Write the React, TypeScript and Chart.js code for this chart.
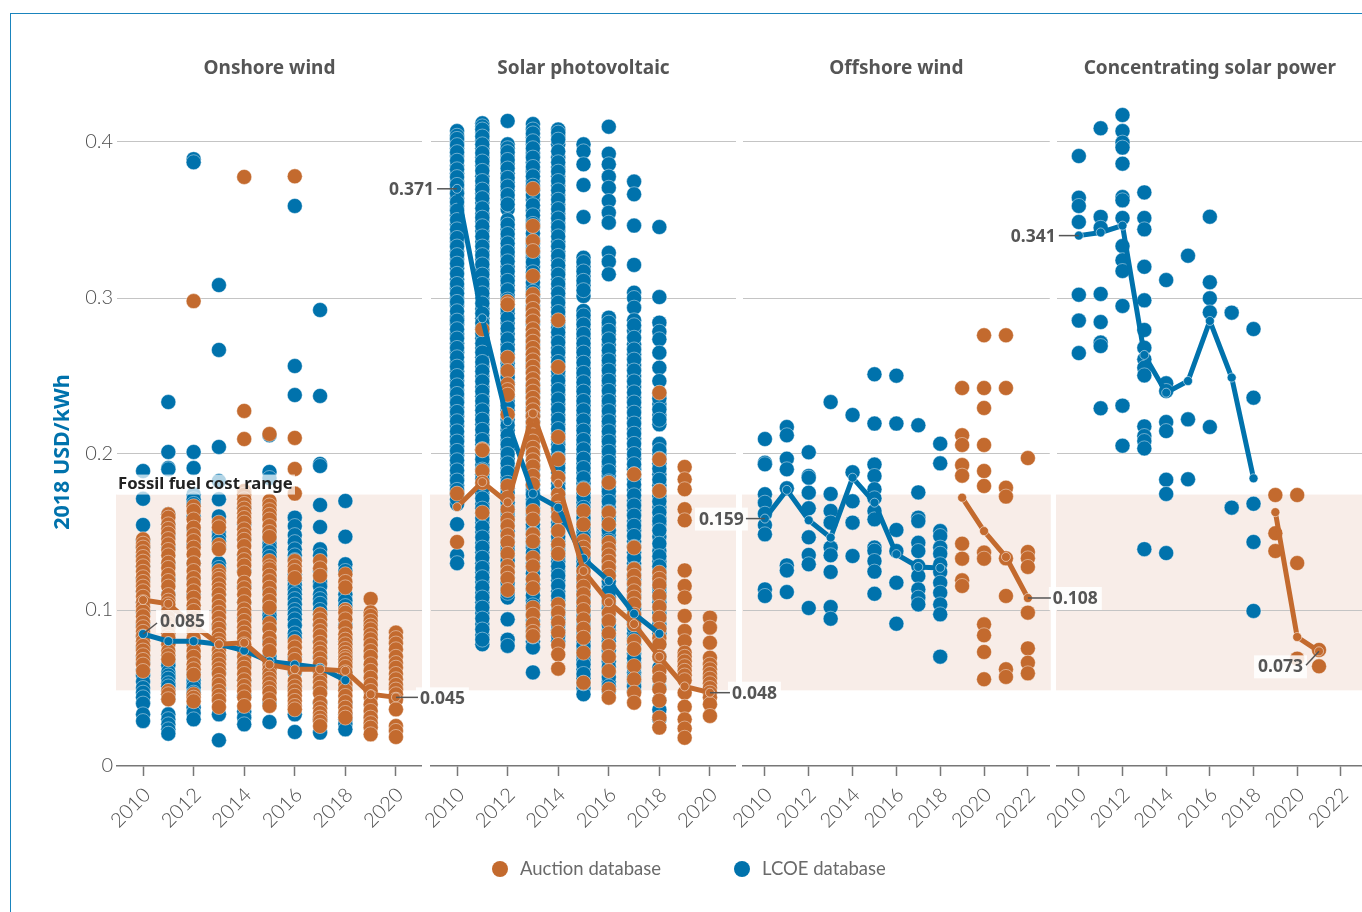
import React, { useEffect, useRef } from "react";
import { Chart, registerables } from "chart.js";

Chart.register(...registerables);

const BLUE = "#0072ac";
const ORANGE = "#c36a2e";
const GREY = "#6a6a6a";
const TICK_GREY = "#505050";
const LABEL_FONT = "Lato";
const TITLE_FONT = "Noto Sans";

const yTicks = [0, 0.1, 0.2, 0.3, 0.4];
const fossilLow = 0.0485;
const fossilHigh = 0.174;

const titles = ["Onshore wind", "Solar photovoltaic", "Offshore wind", "Concentrating solar power"];
const shortYearTicks = [2010, 2012, 2014, 2016, 2018, 2020];
const longYearTicks = [2010, 2012, 2014, 2016, 2018, 2020, 2022];

// LCOE and auction points per year, first column is 2010
const onshoreLcoe = [
  [.1891, .1713, .1545, .1445, .14, .135, .128, .12, .112, .105, .098, .09, .083, .076, .07, .066, .062, .058, .054, .05, .047, .044, .04, .0331, .0288],
  [.2333, .2013, .191, .1902, .1613, .155, .148, .14, .13, .12, .11, .1, .09, .08, .0687, .066, .0645, .0603, .058, .056, .053, .051, .048, .046, .043, .0331, .03, .0267, .0235, .0207],
  [.389, .387, .2013, .191, .1742, .171, .168, .16, .152, .142, .13, .12, .11, .1, .09, .08, .07, .06, .057, .055, .0525, .0502, .047, .0374, .034, .0299],
  [.3083, .2667, .2045, .1827, .171, .16, .15, .147, .144, .14, .13, .127, .12, .11, .1, .09, .08, .07, .06, .05, .0331, .0165],
  [.165, .155, .145, .135, .125, .115, .105, .095, .085, .075, .065, .055, .045, .035, .031, .0267],
  [.212, .1885, .1846, .16, .15, .146, .1425, .14, .137, .134, .127, .12, .113, .106, .1, .0965, .094, .088, .08, .07, .0675, .06, .05, .04, .0282],
  [.359, .2564, .2378, .1592, .1538, .148, .1435, .1389, .135, .132, .1229, .119, .116, .113, .1101, .107, .1035, .1, .0972, .094, .09, .085, .082, .07, .06, .05, .0331, .0218],
  [.2923, .2372, .1936, .1923, .1673, .1532, .1389, .135, .125, .118, .115, .11, .107, .104, .1, .097, .09, .08, .07, .06, .05, .04, .03, .0214],
  [.1699, .147, .1293, .125, .1101, .106, .1025, .1, .09, .08, .07, .06, .05, .04, .0331, .03, .027, .0235],
];
const onshoreAuction = [
  [.1453, .1425, .14, .137, .134, .131, .128, .1245, .121, .118, .115, .112, .1085, .105, .102, .099, .096, .092, .089, .086, .083, .08, .077, .074, .071, .068, .065, .0609],
  [.1613, .1592, .1549, .152, .149, .1455, .1421, .1385, .135, .1303, .127, .1225, .1186, .115, .1096, .106, .1036, .099, .095, .0915, .088, .085, .0822, .078, .0737, .071, .0684, .0481, .046, .0428],
  [.298, .1665, .1635, .158, .1528, .148, .1442, .14, .1357, .13, .125, .1205, .1165, .112, .1079, .103, .0994, .095, .0905, .0865, .082, .078, .0737, .07, .0652, .062, .0585, .046, .0438, .0415],
  [.156, .153, .1417, .139, .125, .122, .1199, .1165, .1132, .11, .1058, .102, .0983, .095, .0908, .088, .084, .081, .078, .074, .071, .0684, .065, .062, .059, .0545, .052, .0481, .045, .042, .0378],
  [.3776, .2276, .2096, .1763, .174, .171, .168, .165, .162, .159, .156, .1517, .148, .145, .141, .1357, .132, .1285, .124, .1175, .114, .11, .105, .1004, .097, .093, .089, .0855, .082, .078, .0737, .07, .066, .063, .059, .055, .0513, .048, .044, .0385],
  [.2128, .1699, .167, .164, .161, .158, .1538, .15, .1468, .1314, .128, .1261, .122, .1185, .1143, .11, .1058, .1015, .0915, .0876, .0822, .078, .0737, .0647, .062, .059, .056, .053, .05, .047, .0428, .0385],
  [.378, .2103, .1904, .1746, .1314, .128, .125, .1205, .0795, .076, .0716, .068, .0609, .0545, .051, .048, .045, .0417, .0385, .0363],
  [.1314, .1267, .122, .0972, .094, .09, .0865, .0833, .079, .0755, .0726, .069, .0655, .0609, .057, .0535, .0502, .0465, .0406, .037, .034, .031, .0285, .0256],
  [.1229, .118, .1145, .1, .0983, .094, .089, .0844, .081, .078, .075, .0725, .07, .0684, .066, .0635, .06, .0565, .052, .0485, .0449, .041, .0374, .034, .031],
  [.1071, .0985, .0962, .093, .09, .0876, .084, .0812, .0775, .0737, .07, .0652, .061, .0566, .052, .0481, .044, .0395, .0353, .031, .0275, .0246, .0203],
  [.0855, .082, .0785, .0748, .07, .066, .063, .059, .0556, .052, .049, .046, .0425, .0363, .0256, .0225, .0186],
];
const solarLcoe = [
  [.407, .404, .4, .396, .391, .385, .38, .375, .37, .364, .359, .353, .347, .341, .336, .33, .325, .319, .312, .306, .3, .295, .288, .283, .277, .271, .265, .259, .253, .247, .241, .236, .23, .224, .218, .211, .205, .199, .193, .186, .18, .174, .168, .155, .135, .13],
  [.412, .41, .406, .401, .396, .39, .385, .378, .372, .367, .361, .354, .349, .343, .336, .33, .325, .318, .312, .306, .3, .293, .287, .281, .274, .268, .262, .256, .25, .243, .237, .231, .225, .219, .212, .206, .2, .193, .187, .181, .175, .168, .162, .156, .15, .143, .137, .13, .124, .118, .111, .105, .098, .091, .084, .078],
  [.4135, .3985, .396, .391, .386, .38, .374, .369, .363, .357, .35, .344, .338, .332, .327, .32, .314, .308, .302, .296, .29, .284, .277, .27, .264, .258, .252, .246, .24, .234, .228, .222, .215, .209, .203, .197, .191, .185, .178, .172, .166, .16, .154, .147, .141, .135, .128, .121, .114, .108, .094, .081, .077],
  [.4115, .408, .403, .3985, .393, .387, .381, .375, .369, .363, .356, .35, .345, .338, .332, .326, .32, .313, .307, .301, .295, .289, .283, .276, .27, .264, .258, .252, .245, .239, .233, .227, .221, .214, .208, .202, .196, .19, .183, .177, .171, .165, .158, .152, .146, .14, .133, .127, .12, .113, .106, .1, .093, .086, .08, .076, .06],
  [.408, .404, .3985, .39, .384, .378, .372, .366, .36, .354, .348, .343, .336, .33, .324, .318, .312, .306, .3, .294, .288, .281, .275, .268, .262, .256, .25, .244, .238, .232, .225, .219, .213, .206, .2, .194, .188, .181, .175, .169, .163, .156, .15, .144, .138, .131, .125, .119, .112, .106, .1, .094, .087, .08],
  [.3985, .394, .3857, .3724, .3519, .3258, .32, .3141, .308, .3013, .2917, .286, .28, .274, .268, .262, .255, .249, .243, .237, .231, .225, .218, .212, .206, .2, .194, .188, .181, .175, .169, .162, .156, .15, .143, .137, .131, .125, .118, .112, .106, .099, .093, .086, .08, .074, .068, .062, .056, .05, .046],
  [.4098, .3925, .3857, .3778, .3707, .3622, .3547, .3483, .329, .3233, .3152, .2874, .281, .2767, .27, .263, .257, .25, .244, .237, .231, .224, .218, .211, .205, .198, .192, .186, .179, .173, .166, .16, .154, .148, .141, .135, .128, .122, .115, .108, .101, .094, .087, .08, .074, .067, .06, .054, .048],
  [.3746, .3665, .3464, .3212, .3034, .3, .2938, .2857, .279, .2703, .264, .257, .25, .243, .236, .23, .223, .216, .21, .203, .197, .19, .184, .177, .17, .164, .157, .151, .144, .137, .13, .123, .116, .11, .104, .098, .092, .085, .078, .072, .066, .06, .054, .048],
  [.3455, .3006, .2842, .2784, .2735, .2649, .2553, .2468, .239, .232, .225, .219, .2065, .2, .194, .187, .18, .173, .166, .159, .1549, .147, .1378, .131, .125, .118, .111, .105, .098, .091, .085, .078, .07, .063, .056, .05, .042, .036, .03],
];
// Further LCOE projects read between the ones above, where the columns are too dense to tell apart
const solarLcoeDense = [
  [.402, .398, .3935, .388, .3825, .3775, .3725, .367, .3615, .356, .35, .344, .3385, .333, .3275, .322, .3155, .309, .303, .2975, .2915, .2855, .28, .274, .268, .262, .256, .25, .244, .2385, .233, .227, .221, .2145, .208, .202, .196, .1895, .183, .177, .171],
  [.408, .4035, .3985, .393, .3875, .3815, .375, .3695, .364, .3575, .3515, .346, .3395, .333, .3275, .3215, .315, .309, .303, .2965, .29, .284, .2775, .271, .265, .259, .253, .2465, .24, .234, .228, .222, .2155, .209, .203, .1965, .19, .184, .178, .1715, .165, .159, .153, .1465, .14, .1335, .127, .121, .1145, .108, .1015, .0945, .0875, .081],
  [.3935, .3885, .383, .377, .3715, .366, .36, .347, .341, .335, .3295, .3235, .317, .311, .305, .299, .293, .287, .2805, .2735, .267, .261, .255, .249, .243, .237, .231, .225, .2185, .212, .206, .2, .194, .188, .1815, .175, .169, .163, .157, .1505, .144, .138, .1315, .1245, .1175, .111],
  [.4055, .4005, .396, .39, .384, .378, .372, .366, .3595, .353, .3475, .3415, .335, .329, .323, .3165, .31, .304, .298, .292, .286, .2795, .273, .267, .261, .255, .2485, .242, .236, .23, .224, .2175, .211, .205, .199, .193, .1865, .18, .174, .168, .1615, .155, .149, .143, .1365, .13, .1235, .1165, .1095, .103, .0965, .0895, .083],
  [.406, .4015, .394, .387, .381, .375, .369, .363, .357, .351, .3455, .3395, .333, .327, .321, .315, .309, .303, .297, .291, .2845, .278, .2715, .265, .259, .253, .247, .241, .235, .2285, .222, .216, .2095, .203, .197, .191, .1845, .178, .172, .166, .1595, .153, .147, .141, .1345, .128, .122, .1155, .109, .103, .097, .0905, .0835],
  [.323, .317, .311, .305, .2888, .283, .277, .271, .265, .2585, .252, .246, .24, .234, .228, .2215, .215, .209, .203, .197, .191, .1845, .178, .172, .1655, .159, .153, .1465, .14, .134, .128, .1215, .115, .109, .1025, .096, .0895, .083, .077, .071, .065, .059, .053],
  [.2842, .279, .2735, .2665, .26, .2535, .247, .2405, .234, .2275, .221, .2145, .208, .2015, .195, .189, .1825, .176, .1695, .163, .157, .151, .1445, .138, .1315, .125, .1185, .1115, .1045, .0975, .0905, .0835, .077, .0705, .0635, .057, .051],
  [.2825, .2745, .267, .2605, .2535, .2465, .2395, .233, .2265, .2195, .213, .2065, .2, .1935, .187, .1805, .1735, .167, .1605, .154, .1475, .1405, .1335, .1265, .1195, .113, .107, .101, .095, .0885, .0815, .075, .069, .063, .057, .051],
  [.2355, .2285, .222, .2025, .197, .1905, .1835, .1765, .1695, .1625, .157, .151, .1425, .1345, .128, .1215, .1145, .108, .1015, .0945, .088],
];
const solarAuction = [
  [.1746, .1436],
  [.28, .203, .2024, .1891, .1816, .1624],
  [.2976, .2959, .2618, .2532, .2447, .241, .238, .2254, .1795, .172, .1646, .158, .1538, .148, .1432, .136, .1282, .124, .12, .1128],
  [.37, .3462, .3365, .3301, .3141, .3024, .298, .293, .289, .285, .28, .276, .272, .268, .264, .26, .256, .252, .248, .244, .24, .236, .232, .228, .224, .22, .216, .212, .208, .204, .2, .196, .192, .186, .1806, .1635, .158, .1485, .144, .1335, .128, .1197, .114, .1015, .097, .0908, .086, .0833],
  [.2857, .2558, .2109, .1966, .1848, .1742, .17, .165, .16, .1506, .1421, .136, .1036, .0983, .092, .0855, .0776, .0715, .0624],
  [.1774, .1635, .1549, .1442, .14, .136, .125, .12, .115, .1101, .105, .1, .094, .088, .0822, .0726, .0534],
  [.1816, .1624, .155, .1432, .139, .135, .131, .127, .122, .1058, .098, .0929, .085, .0769, .07, .0609, .0492, .0438],
  [.187, .14, .1261, .122, .117, .112, .108, .1036, .097, .0908, .0801, .075, .0641, .0556, .047, .0406],
  [.2393, .1966, .1763, .1239, .12, .116, .109, .102, .0951, .088, .082, .078, .07, .0609, .056, .0492, .042, .031, .0246],
  [.1917, .1838, .1774, .1646, .1575, .1254, .1154, .108, .0962, .0865, .08, .0726, .07, .067, .064, .061, .058, .055, .047, .038, .0299, .024, .0181],
  [.0951, .0887, .079, .0694, .065, .062, .059, .056, .053, .05, .047, .044, .0396, .0321],
];
const offshoreLcoe = [
  [.2096, .1944, .1934, .1742, .1688, .1617, .1545, .1485, .1132, .109],
  [.2173, .212, .197, .1902, .178, .1286, .1254, .1115],
  [.2011, .1859, .1848, .1752, .1652, .1466, .1353, .1293, .1013],
  [.2333, .1744, .1635, .156, .14, .1351, .1244, .1019, .0944],
  [.225, .1883, .1697, .156, .1346],
  [.2511, .2195, .1932, .1859, .1774, .1716, .1635, .1581, .14, .138, .1314, .1246, .1104],
  [.2502, .2195, .1513, .1378, .1175, .0912],
  [.2184, .1754, .1592, .157, .1431, .1378, .1282, .1218, .1132, .1079, .1036],
  [.2066, .194, .1506, .1474, .14, .1361, .1293, .1244, .1175, .1111, .1036, .0972, .0701],
];
const offshoreAuction = [
  [], [], [], [], [], [], [], [], [],
  [.2423, .212, .2058, .1929, .1861, .1425, .1329, .119, .1154],
  [.2761, .2423, .2295, .2058, .1891, .1795, .1368, .1329, .0908, .0838, .0731, .0556],
  [.2761, .2423, .1784, .1727, .1331, .109, .062, .0571],
  [.1974, .1372, .1331, .1276, .0983, .0754, .0662, .0594],
];
const cspLcoe = [
  [.391, .3643, .359, .3487, .3021, .2855, .2647],
  [.4088, .352, .345, .3026, .2846, .2714, .2692, .2293],
  [.4173, .407, .3996, .3964, .3861, .3647, .3626, .3513, .3333, .3242, .3173, .2949, .231, .2053],
  [.3677, .3513, .344, .32, .2985, .2795, .2681, .2607, .2553, .2504, .2177, .2115, .2083, .2036, .139],
  [.3115, .2453, .2404, .2205, .2147, .1835, .1744, .1365],
  [.3271, .2222, .1838],
  [.3521, .3101, .2998, .2908, .2173],
  [.2906, .1656],
  [.2801, .2361, .1681, .1436, .0994],
];
const cspAuction = [
  [], [], [], [], [], [], [], [], [],
  [.1737, .1492, .1378],
  [.1737, .1301, .0688],
  [.0744, .0639],
];

// Weighted averages; null where a series has no value that year
const onshoreLcoeLine = [.0846, .08, .08, .078, .074, .067, .065, .063, .055];
const onshoreAuctionLine = [.1064, .104, .09, .078, .079, .065, .062, .062, .061, .046, .044];
const solarLcoeLine = [.37, .287, .221, .1746, .1656, .133, .1186, .0976, .0848];
const solarAuctionLine = [.166, .182, .169, .226, .181, .125, .105, .091, .07, .051, .047];
const offshoreLcoeLine = [.1586, .177, .1575, .1464, .1848, .1688, .1358, .1276, .127];
const offshoreAuctionLine = [null, null, null, null, null, null, null, null, null, .172, .1506, .134, .1077];
const cspLcoeLine = [.34, .342, .3464, .2635, .2393, .2468, .2853, .249, .1844];
const cspAuctionLine = [null, null, null, null, null, null, null, null, null, .1627, .0827, .0735];

const FIRST_YEAR = 2010;
const toPoints = (cols: number[][]) =>
  cols.flatMap((vals, i) => vals.map((y) => ({ x: FIRST_YEAR + i, y })));
const toLine = (vals: (number | null)[]) =>
  vals.flatMap((y, i) => (y === null ? [] : [{ x: FIRST_YEAR + i, y }]));

type Callout = { year: number; value: number; text: string; dx: number; dy: number; lx: number; ly: number };

const panels = [
  {
    left: 117, right: 422, xMin: 2008.97, xMax: 2021.03, ticks: shortYearTicks,
    lcoe: onshoreLcoe, auction: onshoreAuction, lcoeLine: onshoreLcoeLine, auctionLine: onshoreAuctionLine,
    callouts: [
      { year: 2010, value: 0.0846, text: "0.085", dx: 17, dy: -13, lx: 14, ly: -11 },
      { year: 2020, value: 0.044, text: "0.045", dx: 24, dy: 1, lx: 22, ly: 0 },
    ] as Callout[],
  },
  {
    left: 431, right: 736, xMin: 2008.97, xMax: 2021.03, ticks: shortYearTicks,
    lcoe: solarLcoe.map((c, i) => [...c, ...solarLcoeDense[i]]), auction: solarAuction, lcoeLine: solarLcoeLine, auctionLine: solarAuctionLine,
    callouts: [
      { year: 2010, value: 0.37, text: "0.371", dx: -68, dy: 0, lx: -20, ly: 0 },
      { year: 2020, value: 0.047, text: "0.048", dx: 22, dy: 0, lx: 20, ly: 0 },
    ] as Callout[],
  },
  {
    left: 743, right: 1052, xMin: 2009, xMax: 2023, ticks: longYearTicks,
    lcoe: offshoreLcoe, auction: offshoreAuction, lcoeLine: offshoreLcoeLine, auctionLine: offshoreAuctionLine,
    callouts: [
      { year: 2010, value: 0.1586, text: "0.159", dx: -66, dy: 0, lx: -19, ly: 0 },
      { year: 2022, value: 0.1077, text: "0.108", dx: 25, dy: 0, lx: 23, ly: 0 },
    ] as Callout[],
  },
  {
    left: 1057, right: 1365, xMin: 2009, xMax: 2023, ticks: longYearTicks,
    lcoe: cspLcoe, auction: cspAuction, lcoeLine: cspLcoeLine, auctionLine: cspAuctionLine,
    callouts: [
      { year: 2010, value: 0.34, text: "0.341", dx: -68, dy: 0, lx: -20, ly: 0 },
      { year: 2021, value: 0.0735, text: "0.073", dx: -61, dy: 15, lx: -13, ly: 14 },
    ] as Callout[],
  },
];

const dotStyle = (color: string) => ({
  pointRadius: 7.5,
  pointHoverRadius: 7.5,
  pointBorderWidth: 1,
  pointBackgroundColor: color,
  pointBorderColor: "rgba(255,255,255,0.42)",
  showLine: false,
  clip: false as const,
});
const lineStyle = (color: string) => ({
  showLine: true,
  borderColor: color,
  borderWidth: 5,
  tension: 0,
  pointRadius: 4.5,
  pointBorderWidth: 1,
  pointBackgroundColor: color,
  pointBorderColor: "rgba(255,255,255,0.5)",
  clip: false as const,
});

function App() {
  const refs = useRef<(HTMLCanvasElement | null)[]>([]);
  const overlayRef = useRef<HTMLCanvasElement | null>(null);

  useEffect(() => {
    const overlay = overlayRef.current!.getContext("2d")!;
    overlay.clearRect(0, 0, 1362, 912);
    const PAD = 40;

    const charts = panels.map((p, idx) => {
      const canvasLeft = p.left - PAD;
      const canvas = refs.current[idx]!;
      const bandPlugin = {
        id: "fossilBand",
        beforeDraw(chart: any) {
          const { ctx, chartArea, scales } = chart;
          const top = scales.y.getPixelForValue(fossilHigh);
          const bottom = scales.y.getPixelForValue(fossilLow);
          ctx.save();
          ctx.fillStyle = "#f8ede8";
          ctx.fillRect(chartArea.left - 1, top, chartArea.right - chartArea.left + 2, bottom - top);
          ctx.restore();
        },
      };
      const overlayPlugin = {
        id: "callouts",
        afterDraw(chart: any) {
          const { scales } = chart;
          overlay.save();
          overlay.textBaseline = "middle";
          p.callouts.forEach((c) => {
            const px = canvasLeft + scales.x.getPixelForValue(c.year);
            const py = scales.y.getPixelForValue(c.value);
            overlay.font = `700 17.5px '${TITLE_FONT}'`;
            const w = overlay.measureText(c.text).width;
            overlay.fillStyle = "rgba(255,255,255,0.85)";
            overlay.fillRect(px + c.dx - 4, py + c.dy - 11, w + 8, 23);
            overlay.strokeStyle = "#555555";
            overlay.lineWidth = 1.5;
            overlay.beginPath();
            overlay.moveTo(px, py);
            overlay.lineTo(px + c.lx, py + c.ly);
            overlay.stroke();
            overlay.fillStyle = "#555555";
            overlay.fillText(c.text, px + c.dx, py + c.dy + 1);
          });
          if (idx === 0) {
            const fy = scales.y.getPixelForValue(fossilHigh);
            overlay.font = `700 16.7px '${TITLE_FONT}'`;
            overlay.fillStyle = "rgba(255,255,255,0.7)";
            overlay.fillRect(canvasLeft + chart.chartArea.left, fy - 20, 178, 20);
            overlay.fillStyle = "#222222";
            overlay.fillText("Fossil fuel cost range", canvasLeft + chart.chartArea.left + 1, fy - 10);
            overlay.save();
            overlay.translate(63, 452);
            overlay.rotate(-Math.PI / 2);
            overlay.textAlign = "center";
            overlay.fillStyle = BLUE;
            overlay.font = `700 21.5px '${TITLE_FONT}'`;
            overlay.fillText("2018 USD/kWh", 0, 0);
            overlay.restore();
          }
          overlay.restore();
        },
      };

      return new Chart(canvas, {
        type: "scatter",
        data: {
          datasets: [
            { label: "LCOE database", data: toPoints(p.lcoe), order: 4, ...dotStyle(BLUE) },
            { label: "Auction database", data: toPoints(p.auction), order: 3, ...dotStyle(ORANGE) },
            { label: "LCOE average", data: toLine(p.lcoeLine), order: 2, ...lineStyle(BLUE) },
            { label: "Auction average", data: toLine(p.auctionLine), order: 1, ...lineStyle(ORANGE) },
          ],
        },
        plugins: [bandPlugin, overlayPlugin],
        options: {
          responsive: false,
          animation: false,
          layout: { autoPadding: false, padding: { left: idx === 0 ? 0 : PAD, right: 0, top: 0, bottom: 0 } },
          plugins: {
            legend: { display: false },
            tooltip: { enabled: false },
            title: {
              display: true,
              text: titles[idx],
              fullSize: false,
              color: "#555555",
              font: { family: TITLE_FONT, size: 19, weight: "700", lineHeight: 1.2 },
              padding: { top: 57, bottom: 23.2 },
            },
          },
          scales: {
            x: {
              type: "linear",
              min: p.xMin,
              max: p.xMax,
              afterBuildTicks: (s: any) => { s.ticks = p.ticks.map((value) => ({ value })); },
              afterFit: (s: any) => { s.height = 146; },
              border: { color: "#777777", width: 1.5 },
              grid: { drawOnChartArea: false, tickLength: 10, tickColor: "#777777", tickWidth: 1.5 },
              ticks: {
                color: TICK_GREY,
                font: { family: LABEL_FONT, size: 20, weight: "300" },
                maxRotation: 45,
                minRotation: 45,
                padding: 7,
                labelOffset: 4,
                callback: (v: any) => String(v),
              },
            },
            y: {
              type: "linear",
              min: 0,
              max: 0.425,
              afterBuildTicks: (s: any) => { s.ticks = yTicks.map((value) => ({ value })); },
              afterFit: (s: any) => { s.width = idx === 0 ? PAD : 0; },
              border: { display: false },
              grid: {
                drawTicks: false,
                color: (c: any) => (c.tick && c.tick.value === 0 ? "rgba(0,0,0,0)" : "#c4c4c4"),
              },
              ticks: {
                display: idx === 0,
                color: TICK_GREY,
                padding: 4,
                font: { family: LABEL_FONT, size: 20, weight: "300" },
                callback: (v: any) => (v === 0 ? "0" : String(v)),
              },
            },
          },
        },
      } as any);
    });
    return () => charts.forEach((c) => c.destroy());
  }, []);

  const abs: React.CSSProperties = { position: "absolute", top: 0 };
  return (
    <div style={{ position: "absolute", left: 0, top: 0, width: 1362, height: 912, overflow: "hidden", background: "#fff" }}>
      <div style={{ position: "absolute", left: 10, top: 13, width: 1352, height: 899, borderLeft: "1px solid #1a84bd", borderTop: "1px solid #1a84bd" }} />
      {panels.map((p, i) => (
        <canvas
          key={i}
          ref={(el) => { refs.current[i] = el; }}
          width={p.right - p.left + 40}
          height={912}
          style={{ ...abs, left: p.left - 40 }}
        />
      ))}
      <canvas ref={overlayRef} width={1362} height={912} style={{ ...abs, left: 0 }} />
      {[
        { text: "Auction database", color: ORANGE, dot: 500 },
        { text: "LCOE database", color: BLUE, dot: 742 },
      ].map((l) => (
        <React.Fragment key={l.text}>
          <div style={{ position: "absolute", left: l.dot - 8, top: 861, width: 16, height: 16, borderRadius: 8, background: l.color }} />
          <div style={{ position: "absolute", left: l.dot + 20, top: 857, lineHeight: "24px", font: `400 18.5px '${LABEL_FONT}'`, color: GREY, whiteSpace: "nowrap" }}>{l.text}</div>
        </React.Fragment>
      ))}
    </div>
  );
}

export default App;
